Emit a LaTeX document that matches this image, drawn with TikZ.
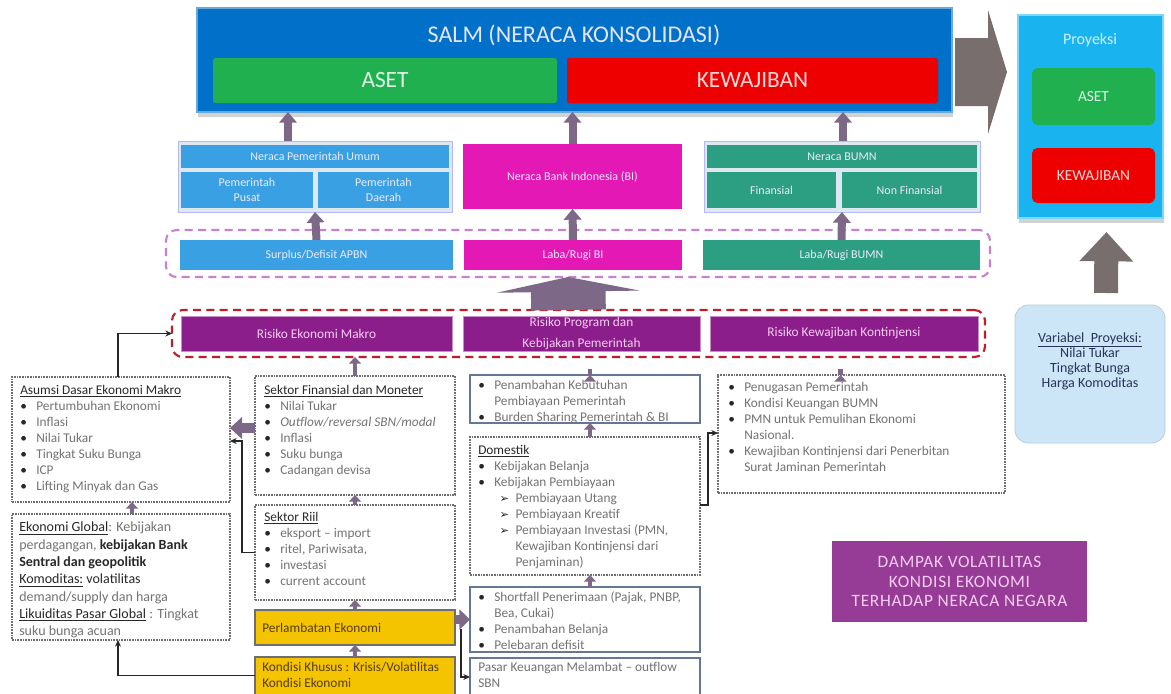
\documentclass[tikz,border=0pt]{standalone}
\usepackage{fontspec}
\setmainfont{Carlito}
\newfontfamily\dejavu{DejaVu Sans}
\usetikzlibrary{arrows.meta,fit,calc,shadows}
\definecolor{salmblue}{RGB}{0,112,200}
\definecolor{asetgreen}{RGB}{32,176,80}
\definecolor{kewred}{RGB}{238,0,0}
\definecolor{pblue}{RGB}{58,160,228}
\definecolor{bimag}{RGB}{228,24,180}
\definecolor{bteal}{RGB}{44,158,130}
\definecolor{panelbg}{RGB}{222,232,242}
\definecolor{lilac}{RGB}{200,130,205}
\definecolor{dred}{RGB}{190,30,40}
\definecolor{rpurple}{RGB}{140,30,140}
\definecolor{rtext}{RGB}{245,205,240}
\definecolor{gold}{RGB}{245,196,0}
\definecolor{goldtxt}{RGB}{85,60,10}
\definecolor{dampakc}{RGB}{150,60,150}
\definecolor{proyblue}{RGB}{25,180,240}
\definecolor{varbg}{RGB}{205,230,247}
\definecolor{navy}{RGB}{40,50,90}
\definecolor{arrc}{RGB}{125,105,135}
\definecolor{greyarr}{RGB}{120,110,110}
\definecolor{txtg}{RGB}{115,115,115}
\definecolor{txtd}{RGB}{40,40,40}
\definecolor{bordg}{RGB}{110,110,110}
\definecolor{solidb}{RGB}{100,120,150}
\newcommand{\bl}{\makebox[12pt][l]{\textcolor{black!85}{\textbullet}}}
\newcommand{\ind}{\hspace*{12pt}}
\newcommand{\subar}{\hspace*{16pt}\makebox[12pt][l]{{\dejavu\fontsize{8.5}{8.5}\selectfont\textcolor{black!85}{➢}}}}
\newcommand{\subind}{\hspace*{28pt}}
\newcommand{\hd}[1]{\textcolor{txtd}{\underline{#1}}}
\tikzset{
 fitb/.style={inner sep=0pt, outer sep=0pt},
 colbox/.style={fitb, fill=#1},
 lab/.style={inner sep=0pt, text=white!92!blue, font=\fontsize{9}{11}\selectfont, align=center},
 dbox/.style={fitb, draw=bordg, line width=0.8pt, dash pattern=on 1.2pt off 0.8pt},
 sbox/.style={fitb, draw=solidb, line width=0.9pt},
 gbox/.style={fitb, fill=gold, draw=bordg, line width=0.9pt},
 txt/.style={anchor=north west, inner sep=0pt, align=left, font=\fontsize{10}{12}\selectfont, text=txtg},
 sarr/.style={draw=arrc, line width=3.5pt, -{Triangle[length=5pt,width=9pt]}},
 marr/.style={draw=arrc, line width=6pt, -{Triangle[length=8pt,width=13pt]}},
 conn/.style={draw=black!85, line width=0.8pt, -{Stealth[length=5pt,width=4.5pt]}},
 riskbox/.style={fitb, fill=rpurple, draw=rpurple!50!white, line width=0.6pt},
 risklab/.style={inner sep=0pt, text=rtext, font=\fontsize{10}{16}\selectfont, align=center},
 topbtn/.style={fitb, fill=#1, rounded corners=2pt},
 toplab/.style={inner sep=0pt, text=white!85!#1, font=\fontsize{17.5}{20}\selectfont},
 shad/.style={drop shadow={opacity=0.35, shadow xshift=1pt, shadow yshift=-4pt}},
}
\begin{document}
\begin{tikzpicture}[x=0.75pt,y=-0.75pt]
\useasboundingbox (0,0) rectangle (1171,693);
\clip (0,0) rectangle (1171,693);
\fill[white] (0,0) rectangle (1171,693);

% ---------- top SALM ----------
\node[fitb, shad, fill=salmblue, draw=salmblue!60!white, line width=0.8pt, fit={(197,8)(952,112)}] (salm) {};
\node[inner sep=0pt, text=white!90!blue, font=\fontsize{18}{20}\selectfont] (salmt) at (574,35) {SALM (NERACA KONSOLIDASI)};
\node[topbtn=asetgreen, fit={(213,58)(557,103)}] (aset) {};
\node[toplab=asetgreen] (asett) at (aset.center) {ASET};
\node[topbtn=kewred, fit={(567,58)(938,103)}] (kew) {};
\node[toplab=kewred] (kewt) at (kew.center) {KEWAJIBAN};

% big grey right arrow
\fill[greyarr] (955,38) -- (988,38) -- (988,10) -- (1007,72) -- (988,134) -- (988,106) -- (955,106) -- cycle;

% ---------- Proyeksi ----------
\node[fitb, shad, fill=proyblue, draw=proyblue!55!white, line width=1pt, fit={(1018,15)(1163,218)}] (proy) {};
\node[inner sep=0pt, text=white!80!proyblue, font=\fontsize{12}{14}\selectfont] (proyt) at (1090,40) {Proyeksi};
\node[fitb, fill=asetgreen, rounded corners=4pt, fit={(1032,68)(1155,125)}] (paset) {};
\node[inner sep=0pt, text=white!85!asetgreen, font=\fontsize{11.5}{14}\selectfont] (pasett) at (paset.center) {ASET};
\node[fitb, fill=kewred, rounded corners=4pt, fit={(1032,148)(1155,203)}] (pkew) {};
\node[inner sep=0pt, text=white!85!kewred, font=\fontsize{11.5}{14}\selectfont] (pkewt) at (pkew.center) {KEWAJIBAN};

% variabel proyeksi
\node[fitb, fill=varbg, draw=varbg!75!gray, line width=0.6pt, rounded corners=10pt, fit={(1015,305)(1165,443)}] (var) {};
\node[inner sep=0pt, align=center, text=navy, font=\fontsize{10.5}{11.3}\selectfont] (vart) at (1090,361) {\underline{Variabel\ \ Proyeksi:}\\Nilai Tukar\\Tingkat Bunga\\Harga Komoditas};
\draw[draw=greyarr, line width=18pt, -{Triangle[length=22pt,width=39pt]}] ($(var.north)+(16,-12)$) -- ($(proy.south)+(16,14)$);

% ---------- row 2: neraca ----------
\node[fitb, fill=panelbg, draw=panelbg!80!blue, line width=0.5pt, fit={(178,141)(452,212)}] (pu) {};
\node[colbox=pblue, fit={(181,145)(449,168)}] (npu) {};
\node[lab] (npul) at (npu.center) {Neraca Pemerintah Umum};
\node[colbox=pblue, fit={(181,172)(313,208)}] (pusat) {};
\node[lab] (pusatl) at (pusat.center) {Pemerintah\\Pusat};
\node[colbox=pblue, fit={(318,172)(449,208)}] (daerah) {};
\node[lab] (daerahl) at (daerah.center) {Pemerintah\\Daerah};
\node[colbox=bimag, fit={(463,144)(682,209)}] (bi) {};
\node[lab] (bil) at (bi.center) {Neraca Bank Indonesia (BI)};
\node[fitb, fill=panelbg, draw=panelbg!80!blue, line width=0.5pt, fit={(704,141)(980,212)}] (bumn) {};
\node[colbox=bteal, fit={(707,145)(977,168)}] (nbumn) {};
\node[lab] (nbumnl) at (nbumn.center) {Neraca BUMN};
\node[colbox=bteal, fit={(707,172)(836,208)}] (fin) {};
\node[lab] (finl) at (fin.center) {Finansial};
\node[colbox=bteal, fit={(842,172)(977,208)}] (nonfin) {};
\node[lab] (nonfinl) at (nonfin.center) {Non Finansial};

\draw[marr] ($(pu.north)+(-27,0)$) -- ($(salm.south)+(-286.5,0)$);
\draw[marr] (bi.north) -- (bi.north |- salm.south);
\draw[marr] ($(bumn.north)+(1,0)$) -- ($(salm.south)+(268.5,0)$);

% ---------- row 3: laba/rugi ----------
\node[fitb, draw=lilac, line width=1.6pt, dash pattern=on 6pt off 4pt, rounded corners=8pt, fit={(166,230)(990,277)}] (lpanel) {};
\node[colbox=pblue, fit={(180,240)(453,270)}] (surplus) {};
\node[lab] (surplusl) at (surplus.center) {Surplus/Defisit APBN};
\node[colbox=bimag, fit={(464,240)(682,270)}] (lrbi) {};
\node[lab] (lrbil) at (lrbi.center) {Laba/Rugi BI};
\node[colbox=bteal, fit={(703,240)(980,270)}] (lrbumn) {};
\node[lab] (lrbumnl) at (lrbumn.center) {Laba/Rugi BUMN};
\draw[marr] (surplus.north) -- (pu.south);
\draw[marr] (lrbi.north) -- (bi.south);
\draw[marr] (lrbumn.north) -- (bumn.south);

% ---------- risk row ----------
\node[fitb, draw=dred, line width=1.6pt, dash pattern=on 6pt off 4pt, rounded corners=8pt, fit={(172,310)(985,357)}] (rpanel) {};
\node[riskbox, fit={(181,316)(452,351)}] (r1) {};
\node[risklab] (r1l) at (r1.center) {Risiko Ekonomi Makro};
\node[riskbox, fit={(463,316)(700,351)}] (r2) {};
\node[risklab] (r2l) at (r2.center) {Risiko Program dan\\Kebijakan Pemerintah};
\node[riskbox, fit={(710,316)(978,351)}] (r3) {};
\node[risklab] (r3l) at (r3.center) {Risiko Kewajiban Kontinjensi};
\draw[draw=arrc, line width=56pt, -{Triangle[length=11pt,width=107pt]}] ($(rpanel.north)+(-10,0)$) -- ($(lpanel.south)+(-10,0)$);

% ---------- lower boxes ----------
\node[dbox, fit={(12,377)(230,502)}] (asumsi) {};
\node[txt] (asumsit) at ($(asumsi.north west)+(8,8)$) {\hd{Asumsi Dasar Ekonomi Makro}\\
\bl Pertumbuhan Ekonomi\\ \bl Inflasi\\ \bl Nilai Tukar\\ \bl Tingkat Suku Bunga\\ \bl ICP\\ \bl Lifting Minyak dan Gas};

\node[dbox, fit={(12,514)(230,640)}] (eglobal) {};
\node[txt, font=\fontsize{10.5}{13}\selectfont] (eglobalt) at ($(eglobal.north west)+(7,8)$) {\hd{Ekonomi Global}: Kebijakan\\
perdagangan, \textcolor{txtd}{\textbf{kebijakan Bank}}\\
\textcolor{txtd}{\textbf{Sentral dan geopolitik}}\\
\hd{Komoditas:} \textcolor{txtd}{volatilitas}\\
demand/supply dan harga\\
\hd{Likuiditas Pasar Global} : Tingkat\\
suku bunga acuan};

\node[dbox, fit={(255,376)(455,495)}] (sfin) {};
\node[txt] (sfint) at ($(sfin.north west)+(9,9)$) {\hd{Sektor Finansial dan Moneter}\\
\bl Nilai Tukar\\ \bl \textit{Outflow/reversal SBN/modal}\\ \bl Inflasi\\ \bl Suku bunga\\ \bl Cadangan devisa};

\node[dbox, fit={(255,505)(455,600)}] (sriil) {};
\node[txt] (sriilt) at ($(sriil.north west)+(9,7)$) {\hd{Sektor Riil}\\
\bl eksport -- import\\ \bl ritel, Pariwisata,\\ \bl investasi\\ \bl current account};

\node[gbox, fit={(255,610)(455,645)}] (perl) {};
\node[txt, text=goldtxt, anchor=west] (perlt) at ($(perl.west)+(7,0)$) {Perlambatan Ekonomi};
\node[gbox, fit={(255,657)(455,705)}] (kondisi) {};
\node[txt, text=goldtxt] (kondisit) at ($(kondisi.north west)+(7,5)$) {Kondisi Khusus : Krisis/Volatilitas\\Kondisi Ekonomi};

\node[sbox, fit={(470,375)(700,423)}] (pen) {};
\node[txt] (pent) at ($(pen.north west)+(8,5)$) {\bl Penambahan Kebutuhan\\ \ind Pembiayaan Pemerintah\\ \bl Burden Sharing Pemerintah \& BI};

\node[dbox, fit={(470,437)(700,575)}] (dom) {};
\node[txt] (domt) at ($(dom.north west)+(8,8)$) {\hd{Domestik}\\
\bl Kebijakan Belanja\\ \bl Kebijakan Pembiayaan\\
\subar Pembiayaan Utang\\ \subar Pembiayaan Kreatif\\ \subar Pembiayaan Investasi (PMN,\\
\subind Kewajiban Kontinjensi dari\\ \subind Penjaminan)};

\node[sbox, fit={(470,587)(700,652)}] (short) {};
\node[txt] (shortt) at ($(short.north west)+(8,4)$) {\bl Shortfall Penerimaan (Pajak, PNBP,\\ \ind Bea, Cukai)\\ \bl Penambahan Belanja\\ \bl Pelebaran defisit};

\node[sbox, fit={(470,658)(700,705)}] (pasar) {};
\node[txt] (pasart) at ($(pasar.north west)+(8,4)$) {Pasar Keuangan Melambat -- outflow\\SBN};

\node[dbox, fit={(718,375)(1005,493)}] (kont) {};
\node[txt] (kontt) at ($(kont.north west)+(10,7)$) {\bl Penugasan Pemerintah\\ \bl Kondisi Keuangan BUMN\\ \bl PMN untuk Pemulihan Ekonomi\\ \ind Nasional.\\ \bl Kewajiban Kontinjensi dari Penerbitan\\ \ind Surat Jaminan Pemerintah};

\node[fitb, fill=dampakc, fit={(832,541)(1087,622)}] (dampak) {};
\node[inner sep=0pt, text=rtext, align=center, font=\fontsize{13}{14.5}\selectfont\addfontfeatures{LetterSpace=4}] (dampakl) at (dampak.center) {DAMPAK VOLATILITAS\\KONDISI EKONOMI\\TERHADAP NERACA NEGARA};

% ---------- connectors ----------
\draw[conn] ($(asumsi.north)+(-3,0)$) |- (rpanel.west);
\draw[draw=arrc, line width=7pt, -{Triangle[length=9pt,width=16pt]}] ($(sfin.west)+(0,-7.5)$) -- ($(asumsi.east)+(0,-11.5)$);
\draw[conn] (sriil.west) -- ++(-13,0) |- ($(asumsi.east)+(0,1.5)$);
\draw[conn] ($(kondisi.west)+(0,-5.5)$) -| ($(eglobal.south)+(-3,0)$);
\draw[sarr] ($(eglobal.north)+(11,0)$) -- ($(asumsi.south)+(11,0)$);
\draw[sarr] (sriil.north) -- (sfin.south);
\draw[sarr] (sfin.north) -- (sfin.north |- rpanel.south);
\draw[sarr] (perl.north) -- (sriil.south);
\draw[sarr] (kondisi.north) -- (perl.south);
\draw[draw=arrc, line width=7pt, -{Triangle[length=8pt,width=15pt]}] ($(perl.east)+(0,-8)$) -- (short.west);
\draw[conn] ($(perl.east)+(6,1)$) |- ($(pasar.west)+(0,-4.5)$);
\draw[sarr] ($(short.north)+(5,0)$) -- ($(dom.south)+(5,0)$);
\draw[sarr] ($(dom.north)+(5,0)$) -- ($(pen.south)+(5,0)$);
\draw[sarr] ($(pen.north)+(5,0)$) -- ($(pen.north)+(5,0)$ |- rpanel.south);
\draw[conn] ($(dom.east)+(0,-1)$) -- ++(8,0) |- ($(kont.west)+(0,-1)$);
\draw[sarr] ($(kont.north)+(-21,0)$) -- ($(kont.north)+(-21,0)$ |- rpanel.south);
\end{tikzpicture}
\end{document}
